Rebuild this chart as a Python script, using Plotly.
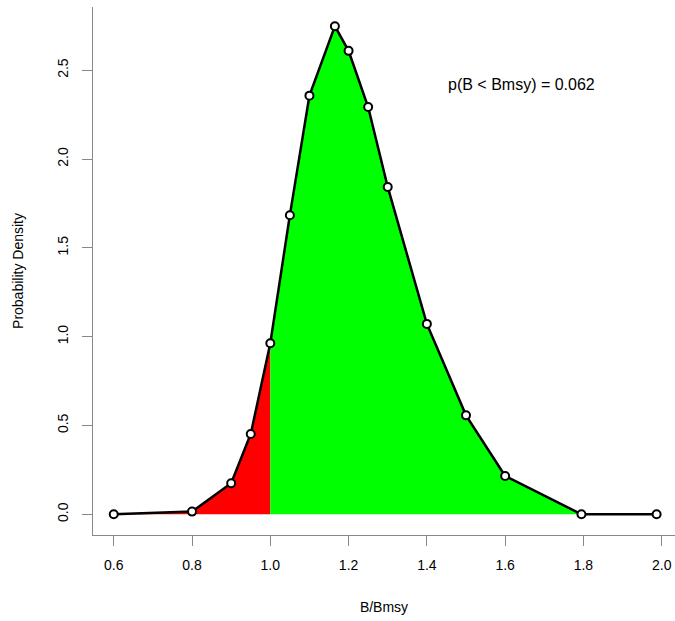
import plotly.graph_objects as go

# Data
b_ratio = [0.6, 0.8, 0.9, 0.95, 1.0, 1.05, 1.1, 1.165, 1.2, 1.25, 1.3, 1.4, 1.5, 1.6, 1.795, 1.987]
density = [0.0, 0.015, 0.175, 0.452, 0.963, 1.684, 2.357, 2.748, 2.609, 2.293, 1.843, 1.072, 0.557, 0.216, 0.0, 0.0]
bmsy = 1.0
p_label = "p(B < Bmsy) = 0.062"
x_ticks = [0.6, 0.8, 1.0, 1.2, 1.4, 1.6, 1.8, 2.0]
y_ticks = [0.0, 0.5, 1.0, 1.5, 2.0, 2.5]

# Build fill polygons from the data
red_x = [x for x in b_ratio if x <= bmsy]
red_y = [y for x, y in zip(b_ratio, density) if x <= bmsy]
red_x = red_x + [bmsy, red_x[0]]
red_y = red_y + [0.0, 0.0]

last_pos = max(i for i, y in enumerate(density) if y > 0) + 1
green_x = [bmsy] + [x for x in b_ratio[:last_pos + 1] if x >= bmsy]
green_y = [0.0] + [y for x, y in zip(b_ratio[:last_pos + 1], density[:last_pos + 1]) if x >= bmsy]
green_x = green_x + [bmsy]
green_y = green_y + [0.0]

fig = go.Figure()
fig.add_trace(go.Scatter(x=red_x, y=red_y, fill="toself", fillcolor="#FF0000",
                         mode="none", hoverinfo="skip", showlegend=False))
fig.add_trace(go.Scatter(x=green_x, y=green_y, fill="toself", fillcolor="#00FF00",
                         mode="none", hoverinfo="skip", showlegend=False))
fig.add_trace(go.Scatter(x=b_ratio, y=density, mode="lines+markers",
                         line=dict(color="black", width=2.5),
                         marker=dict(symbol="circle", size=8, color="white",
                                     line=dict(color="black", width=2)),
                         showlegend=False))

fig.add_annotation(x=1.642, y=2.417, text=p_label, showarrow=False,
                   font=dict(size=16, color="black", family="Liberation Sans"))

axis_font = dict(family="Liberation Sans", size=14, color="black")
fig.update_layout(
    width=675, height=621,
    margin=dict(l=93, r=0, t=7, b=86),
    plot_bgcolor="white", paper_bgcolor="white",
    font=axis_font,
    xaxis=dict(range=[0.547, 2.034], tickvals=x_ticks, tickformat=".1f",
               automargin=False,
               showgrid=False, zeroline=False, showline=True, linecolor="#888888",
               linewidth=1, ticks="outside", ticklen=10, tickcolor="#888888",
               tickfont=axis_font, ticklabelstandoff=7,
               title=dict(text="B/Bmsy", font=axis_font, standoff=30)),
    yaxis=dict(range=[-0.1166, 2.856], tickvals=y_ticks, tickformat=".1f",
               tickangle=-90, automargin=False,
               showgrid=False, zeroline=False, showline=True, linecolor="#888888",
               linewidth=1, ticks="outside", ticklen=10, tickcolor="#888888",
               tickfont=axis_font, ticklabelstandoff=8,
               title=dict(text="Probability Density", font=axis_font, standoff=28)),
)

fig.write_html("out.html", config={"displayModeBar": False},
               post_script="document.body.style.margin='0';document.body.style.padding='0';")
